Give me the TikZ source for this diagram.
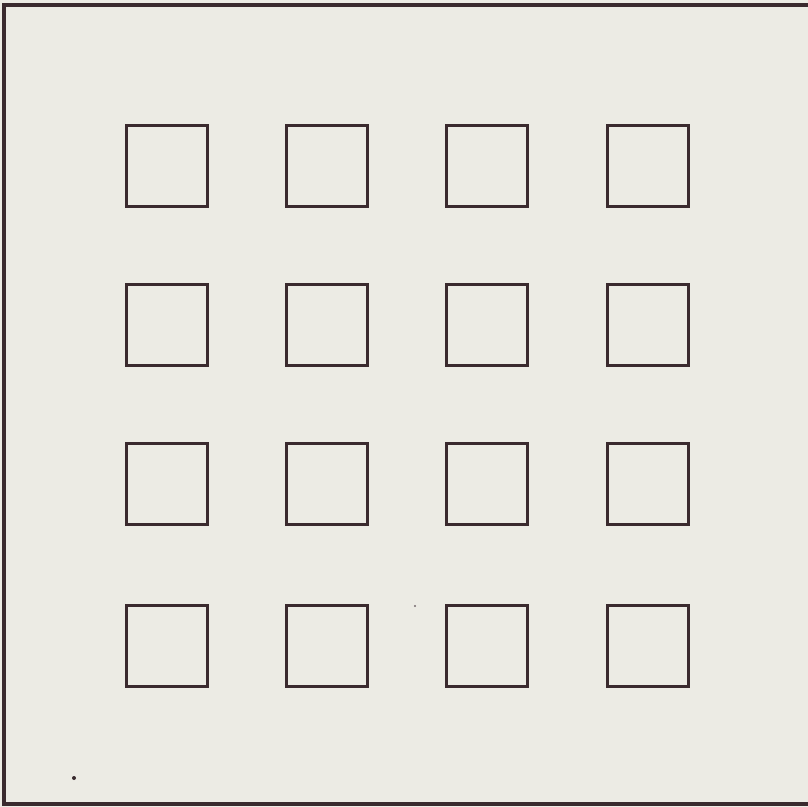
\documentclass[tikz,border=0pt]{standalone}
\definecolor{paper}{HTML}{ECEBE4}
\definecolor{ink}{HTML}{3A2A2E}
\begin{document}
\begin{tikzpicture}[x=0.1cm,y=-0.1cm,
  cell/.style={draw=ink, line width=8.5pt, minimum size=8.05cm, inner sep=0pt, outer sep=0pt},
  frame/.style={draw=ink, line width=9pt}]
\fill[paper] (0,0) rectangle (808,807);
\useasboundingbox (0,0) rectangle (808,807);
% frame
\coordinate (tr) at (808,5);
\coordinate (tl) at (4,5);
\coordinate (bl) at (4,804);
\coordinate (br) at (808,804);
\draw[frame] (tr) -- (tl) -- (bl) -- (br);
% grid of squares
\foreach \c/\x in {1/167,2/327,3/487,4/648}{
  \foreach \r/\y in {1/166,2/325,3/484,4/646}{
    \node[cell] (s\r\c) at (\x,\y) {};
  }
}
% specks
\fill[ink] (74,778) circle (2);
\fill[ink!70] (415,606) circle (1.2);
\end{tikzpicture}
\end{document}
